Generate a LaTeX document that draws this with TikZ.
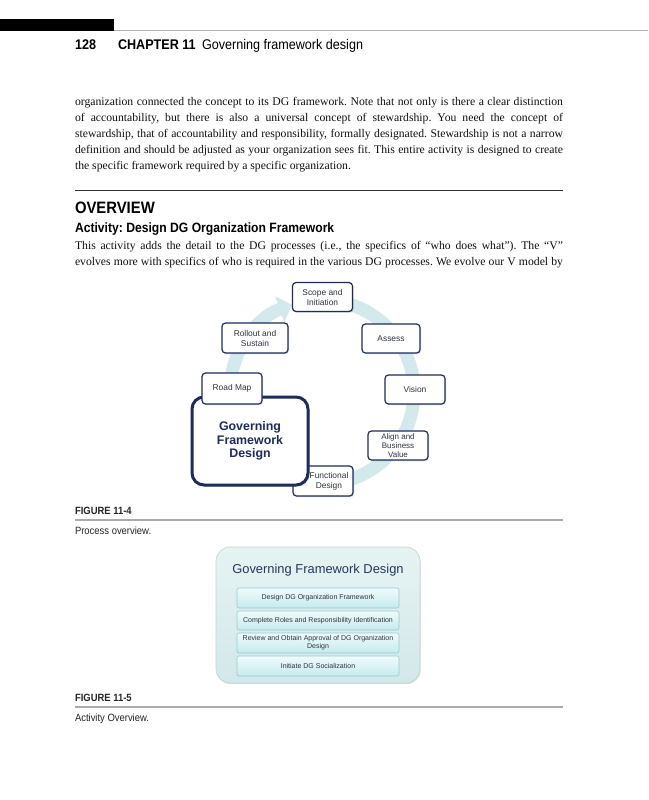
\documentclass[tikz,border=0pt]{standalone}
\usepackage{fontspec}
\setmainfont{Liberation Serif}
\newfontfamily\condfont{Liberation Sans}[FakeStretch=0.9]
\newfontfamily\arialfont{Liberation Sans}
\usetikzlibrary{arrows.meta,shadows}
\definecolor{navy}{HTML}{1F2B5B}
\definecolor{ringcol}{HTML}{D3E9EB}
\definecolor{boxtxt}{HTML}{2E3340}
\definecolor{gfdtitle}{HTML}{26385C}
\definecolor{outerA}{HTML}{E6F3F3}
\definecolor{outerB}{HTML}{D3E8E9}
\definecolor{outerD}{HTML}{C3D3D4}
\definecolor{innerA}{HTML}{F0FBFB}
\definecolor{innerB}{HTML}{C6EAEE}
\definecolor{innerD}{HTML}{96CAD1}
\definecolor{captline}{HTML}{ABABAB}
\definecolor{bodytxt}{HTML}{111111}
\frenchspacing
\begin{document}
\begin{tikzpicture}[x=1pt,y=-1pt,
  every node/.style={inner sep=0pt, outer sep=0pt},
  bodyline/.style={anchor=base west, font=\fontsize{11.7}{14}\selectfont, text=bodytxt},
  headtxt/.style={anchor=base west, font=\condfont\fontsize{14}{16}\selectfont, text=black},
  figlabel/.style={anchor=base west, font=\condfont\bfseries\fontsize{10.5}{12}\selectfont, text=black!85},
  figcapt/.style={anchor=base west, font=\condfont\fontsize{10.5}{12}\selectfont, text=black!85},
  procbox/.style={draw=navy, line width=1.2pt, fill=white, rounded corners=3.5pt,
    drop shadow={shadow xshift=1pt, shadow yshift=-1.2pt, opacity=0.3},
    align=center, font=\arialfont\fontsize{8.4}{10}\selectfont, text=boxtxt},
  bigbox/.style={draw=navy, line width=3pt, fill=white, rounded corners=12pt,
    drop shadow={shadow xshift=1.5pt, shadow yshift=-1.5pt, opacity=0.3},
    align=center, font=\arialfont\bfseries\fontsize{12.4}{13.5}\selectfont, text=navy},
  outerbox/.style={draw=outerD, line width=0.6pt, rounded corners=14pt, top color=outerA, bottom color=outerB,
    drop shadow={shadow xshift=0.6pt, shadow yshift=-1.2pt, opacity=0.25}},
  innerbox/.style={draw=innerD, line width=0.6pt, rounded corners=2pt, top color=innerA, bottom color=innerB,
    minimum width=162pt, align=center, font=\arialfont\fontsize{7}{8}\selectfont, text=boxtxt}
]
\useasboundingbox (0,0) rectangle (648,800);
\fill[white] (0,0) rectangle (648,800);

% running head
\fill[black] (0,19) rectangle (114,31);
\draw[line width=1.5pt, black!30] (114,30.5) -- (648,30.5);
\node[headtxt, font=\condfont\bfseries\fontsize{14}{16}\selectfont] (pgno) at (75,49) {128};
\node[headtxt, font=\condfont\bfseries\fontsize{14}{16}\selectfont] (chap) at (118,49) {CHAPTER 11};
\node[headtxt] (chapt) at (202,49) {Governing framework design};

% paragraph 1
\node[bodyline] (p1) at (75,105) {\hbox to 488pt{organization connected the concept to its DG framework. Note that not only is there a clear distinction}};
\node[bodyline] (p2) at (75,121) {\hbox to 488pt{of accountability, but there is also a universal concept of stewardship. You need the concept of}};
\node[bodyline] (p3) at (75,137) {\hbox to 488pt{stewardship, that of accountability and responsibility, formally designated. Stewardship is not a narrow}};
\node[bodyline] (p4) at (75,153) {\hbox to 488pt{definition and should be adjusted as your organization sees fit. This entire activity is designed to create}};
\node[bodyline] (p5) at (75,169) {the specific framework required by a specific organization.};

\draw[line width=0.9pt, black!80] (75,190) -- (563,190);

\node[anchor=base west, font=\condfont\bfseries\fontsize{16.5}{18}\selectfont] (ov) at (75,213) {OVERVIEW};
\node[anchor=base west, font=\condfont\bfseries\fontsize{13.5}{15}\selectfont] (act) at (75,232) {Activity: Design DG Organization Framework};
\node[bodyline] (q1) at (75,249) {\hbox to 488pt{This activity adds the detail to the DG processes (i.e., the specifics of “who does what”). The “V”}};
\node[bodyline] (q2) at (75,265) {\hbox to 488pt{evolves more with specifics of who is required in the various DG processes. We evolve our V model by}};

% figure 11-4
\coordinate (ringc) at (322,392);
\draw[ringcol, line width=13pt, -{Triangle[width=27pt,length=13pt]}]
  (ringc) ++(-88:92) arc[start angle=-88, end angle=251, radius=92];

\node[procbox, minimum width=60pt, minimum height=30pt] (func) at (323,481) {};
\node[align=center, font=\arialfont\fontsize{8.4}{10}\selectfont, text=boxtxt] (functxt) at (329,481) {Functional\\Design};
\node[bigbox, minimum width=116pt, minimum height=88pt] (gfd) at (250,441) {Governing\\Framework\\Design};
\node[procbox, minimum width=60pt, minimum height=29pt] (scope) at (322.5,297) {Scope and\\Initiation};
\node[procbox, minimum width=58pt, minimum height=29pt] (assess) at (391,338.5) {Assess};
\node[procbox, minimum width=60pt, minimum height=29pt] (vision) at (415,389.5) {Vision};
\node[procbox, minimum width=60pt, minimum height=29pt, font=\arialfont\fontsize{8}{9}\selectfont] (align) at (398,445.5) {Align and\\Business\\Value};
\node[procbox, minimum width=60pt, minimum height=31pt] (road) at (232,388.5) {Road Map};
\node[procbox, minimum width=66pt, minimum height=30pt] (roll) at (255,338) {Rollout and\\Sustain};

\node[figlabel] (f4) at (75,514) {FIGURE 11-4};
\draw[line width=1.2pt, captline] (75,520) -- (563,520);
\node[figcapt] (c4) at (75,534) {Process overview.};

% figure 11-5
\node[outerbox, minimum width=204pt, minimum height=136pt] (act2) at (318,615) {};
\node[anchor=base, font=\arialfont\fontsize{12.9}{14}\selectfont, text=gfdtitle] (act2t) at (318,573.5) {Governing Framework Design};
\node[innerbox, minimum height=20pt] (s1) at (318,598) {Design DG Organization Framework};
\node[innerbox, minimum height=19pt] (s2) at (318,620.5) {Complete Roles and Responsibility Identification};
\node[innerbox, minimum height=20pt] (s3) at (318,643) {Review and Obtain Approval of DG Organization\\Design};
\node[innerbox, minimum height=20pt] (s4) at (318,666) {Initiate DG Socialization};

\node[figlabel] (f5) at (75,701) {FIGURE 11-5};
\draw[line width=1.2pt, captline] (75,707) -- (563,707);
\node[figcapt] (c5) at (75,721) {Activity Overview.};
\end{tikzpicture}
\end{document}
